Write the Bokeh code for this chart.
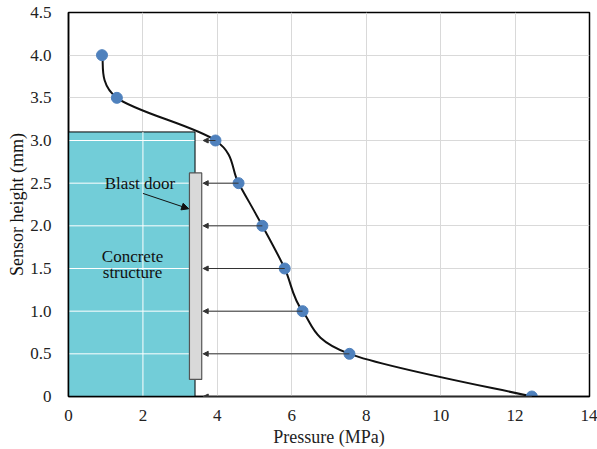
import numpy as np
from bokeh.plotting import figure
from bokeh.models import Range1d, Arrow, NormalHead, Label, FixedTicker, Title
from bokeh.embed import file_html
from bokeh.resources import INLINE

# data
pressure = [0.9, 1.3, 3.95, 4.57, 5.21, 5.81, 6.29, 7.55, 12.45]
height = [4.0, 3.5, 3.0, 2.5, 2.0, 1.5, 1.0, 0.5, 0.0]
x_ticks = [0, 2, 4, 6, 8, 10, 12, 14]
y_ticks = [0, 0.5, 1.0, 1.5, 2.0, 2.5, 3.0, 3.5, 4.0, 4.5]
y_tick_labels = ["0", "0.5", "1.0", "1.5", "2.0", "2.5", "3.0", "3.5", "4.0", "4.5"]
concrete = dict(left=0.0, right=3.4, bottom=0.0, top=3.1)
door = dict(left=3.25, right=3.58, bottom=0.2, top=2.62)
door_face = 3.62
arrow_heights = [3.0, 2.5, 2.0, 1.5, 1.0, 0.5, 0.0]

FONT = "'Liberation Serif'"
AXFONT = "Times New Roman"
W, H = 597, 449
ML, MR, MT, MB = 68, 8, 12, 52

p = figure(width=W, height=H, output_backend="svg", toolbar_location=None,
           x_range=Range1d(0, 14), y_range=Range1d(0, 4.5),
           min_border_left=ML, min_border_right=MR, min_border_top=MT, min_border_bottom=MB)
p.background_fill_color = "white"
p.border_fill_color = "white"
p.outline_line_color = "black"
p.outline_line_width = 1.5

p.xaxis.major_label_text_font = AXFONT
p.yaxis.major_label_text_font = AXFONT
p.xaxis.axis_label_text_font = AXFONT
for ax in (p.xaxis[0], p.yaxis[0]):
    ax.major_tick_line_color = None
    ax.minor_tick_line_color = None
    ax.major_label_text_font_size = "17px"
    ax.major_label_text_color = "#222222"
    ax.axis_label_text_font_size = "18px"
    ax.axis_label_text_font_style = "normal"
    ax.axis_label_text_color = "#222222"
    ax.axis_line_color = "black"
    ax.axis_line_width = 1.5

p.xaxis.ticker = FixedTicker(ticks=x_ticks)
p.yaxis.ticker = FixedTicker(ticks=y_ticks)
p.yaxis.major_label_overrides = {t: l for t, l in zip(y_ticks, y_tick_labels)}
p.xaxis.axis_label = "Pressure (MPa)"
p.xaxis.major_label_standoff = 7
p.yaxis.major_label_standoff = 11
p.xaxis.axis_label_standoff = 3

p.xgrid.ticker = FixedTicker(ticks=x_ticks[1:-1])
p.ygrid.ticker = FixedTicker(ticks=y_ticks[1:-1])
p.grid.grid_line_color = "#d9d9d9"
p.grid.grid_line_width = 1

# y-axis title (shifted slightly below frame centre as in the reference)
p.add_layout(Title(text="Sensor height (mm)", align="center", offset=12,
                   text_font=AXFONT, text_font_size="18px", text_font_style="normal",
                   text_color="#111111", standoff=2), "left")

# concrete structure
p.quad(left=[concrete["left"]], right=[concrete["right"]], bottom=[concrete["bottom"]], top=[concrete["top"]],
       fill_color="#72CDD8", line_color="black", line_width=1)
# white grid lines over concrete
gx = [t for t in x_ticks if concrete["left"] < t < concrete["right"]]
gy = [t for t in y_ticks if concrete["bottom"] < t <= concrete["top"]]
p.segment(x0=gx, y0=[concrete["bottom"]] * len(gx), x1=gx, y1=[concrete["top"]] * len(gx),
          line_color="white", line_width=1)
p.segment(x0=[concrete["left"]] * len(gy), y0=gy, x1=[concrete["right"] - 0.02] * len(gy), y1=gy,
          line_color="white", line_width=1)

# blast door
p.quad(left=[door["left"]], right=[door["right"]], bottom=[door["bottom"]], top=[door["top"]],
       fill_color="#d9d9d9", line_color="#555555", line_width=1.2)

# pressure arrows
for hgt in arrow_heights:
    px = pressure[height.index(hgt)]
    p.add_layout(Arrow(end=NormalHead(size=5, fill_color="#333333", line_color="#333333"),
                       x_start=px, y_start=hgt, x_end=door_face, y_end=hgt,
                       line_color="#555555" if hgt == 0 else "#333333", line_width=1,
                       level="overlay"))

# smooth curve (Catmull-Rom -> Bezier computed in screen-scaled space)
fw = W - ML - MR
fh = H - MT - MB
sx = fw / 14.0
sy = fh / 4.5
P = np.column_stack([np.array(pressure) * sx, np.array(height) * sy])
n = len(P)
x0, y0, x1, y1, cx0, cy0, cx1, cy1 = [], [], [], [], [], [], [], []
for i in range(n - 1):
    pm = P[i - 1] if i > 0 else P[i]
    p0 = P[i]
    p1 = P[i + 1]
    pp = P[i + 2] if i + 2 < n else P[i + 1]
    c0 = p0 + (p1 - pm) / 6.0
    c1 = p1 - (pp - p0) / 6.0
    x0.append(p0[0] / sx); y0.append(p0[1] / sy)
    x1.append(p1[0] / sx); y1.append(p1[1] / sy)
    cx0.append(c0[0] / sx); cy0.append(c0[1] / sy)
    cx1.append(c1[0] / sx); cy1.append(c1[1] / sy)
p.bezier(x0=x0, y0=y0, x1=x1, y1=y1, cx0=cx0, cy0=cy0, cx1=cx1, cy1=cy1,
         line_color="#111111", line_width=2)

p.scatter(pressure, height, size=11, fill_color="#4F81BD", line_color="#4F81BD")

# annotations
p.add_layout(Label(x=1.92, y=2.5, text="Blast door", text_font=FONT, text_font_size="17px",
                   text_align="center", text_baseline="middle", text_color="#111111"))
p.add_layout(Arrow(end=NormalHead(size=7, fill_color="#111111", line_color="#111111"),
                   x_start=2.0, y_start=2.38, x_end=door["left"] - 0.02, y_end=2.2,
                   line_color="#111111", line_width=1))
p.add_layout(Label(x=1.72, y=1.64, text="Concrete", text_font=FONT, text_font_size="17px",
                   text_align="center", text_baseline="middle", text_color="#111111"))
p.add_layout(Label(x=1.72, y=1.45, text="structure", text_font=FONT, text_font_size="17px",
                   text_align="center", text_baseline="middle", text_color="#111111"))

open("out.html", "w").write(file_html(p, INLINE))
